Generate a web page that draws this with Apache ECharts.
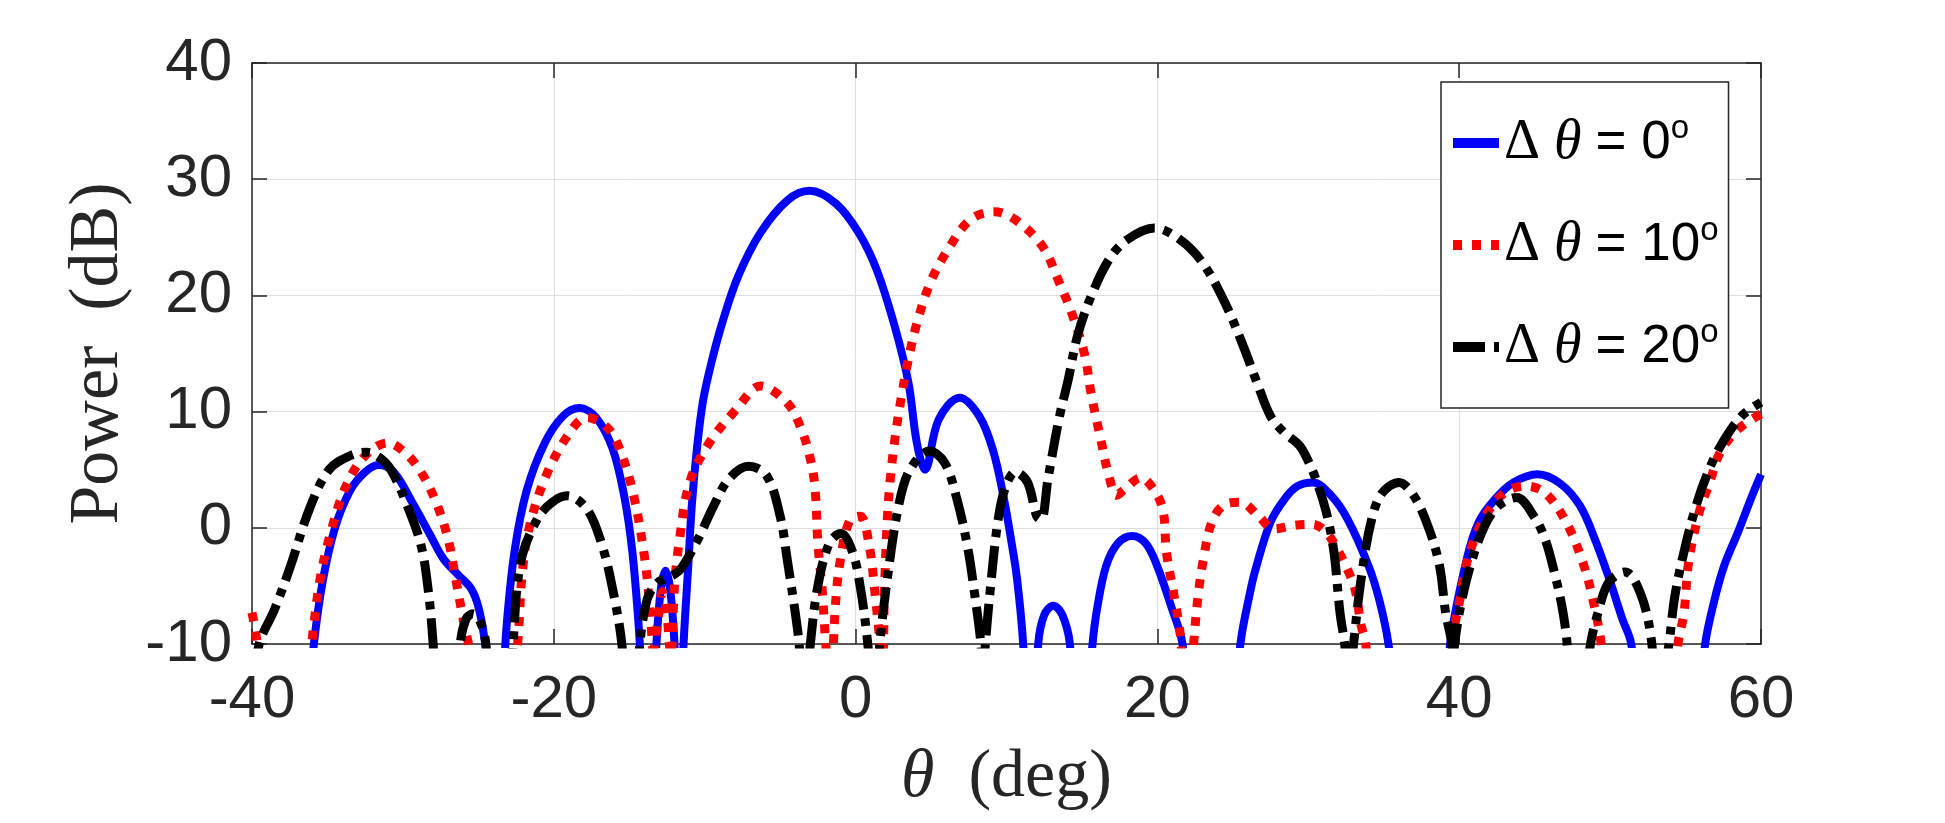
<!DOCTYPE html>
<html>
<head>
<meta charset="utf-8">
<title>Power vs theta</title>
<script src="https://cdn.jsdelivr.net/npm/echarts@6/dist/echarts.min.js"></script>
<style>
  html, body { margin: 0; padding: 0; background: #fff; }
  #chart { width: 1945px; height: 823px; }
</style>
</head>
<body>
<div id="chart"></div>
<script>
// axis ticks
const xTicks = [-40, -20, 0, 20, 40, 60]
const yTicks = [-10, 0, 10, 20, 30, 40]
const seriesNames = ['\u0394 \u03b8 = 0', '\u0394 \u03b8 = 10', '\u0394 \u03b8 = 20']

// Δθ = 0°
const thetaBlue = [-40, -36.3, -35.9, -35.3, -34.5, -33.5, -32.5, -31.6, -30.6, -29.3, -28.2, -27.3, -26.3, -25.5, -25.0, -24.6, -24.2, -23.8, -23.4, -23.1, -22.6, -21.8, -20.6, -19.4, -18.3, -17.2, -16.1, -15.3, -14.8, -14.4, -14.1, -13.6, -13.2, -12.9, -12.6, -12.3, -12.0, -11.7, -11.4, -11.1, -10.85, -10.5, -10.1, -9.5, -8.8, -7.8, -6.3, -4.5, -3.05, -1.3, 0.2, 1.4, 2.6, 3.5, 4.06, 4.6, 5.5, 6.9, 8.2, 9.1, 9.8, 10.3, 10.7, 11.1, 11.6, 12.1, 12.5, 13.1, 13.7, 14.2, 14.9, 15.7, 16.0, 16.6, 17.4, 18.35, 19.2, 19.9, 20.9, 21.65, 22.5, 24, 25.0, 25.5, 26.1, 26.5, 27.5, 28.5, 29.3, 30.3, 31.5, 32.6, 34.0, 34.7, 35.3, 36.5, 38, 39.0, 39.4, 40.5, 41.3, 42.4, 43.6, 45.2, 46.7, 48.0, 49.0, 50.0, 50.8, 51.4, 52.5, 54, 55.5, 56.3, 56.9, 57.55, 58.5, 59.3, 60]
const powerBlue = [-30, -16, -10, -4.5, 0, 3.2, 4.8, 5.4, 4.8, 2.0, -0.6, -2.7, -4.1, -5.2, -6.8, -9.5, -14, -20, -14, -8, -2, 3.2, 7.3, 9.6, 10.3, 9.5, 6.8, 2.5, -2, -8, -14, -20, -10, -5.2, -3.7, -5.2, -10, -20, -10, -3.5, 2, 7, 11, 14.5, 17.8, 21.6, 25.4, 28.2, 29.0, 27.9, 25.4, 22.2, 17.3, 12.5, 7.3, 5.0, 9.3, 11.2, 9.6, 6.7, 2.7, -1, -4.4, -9.9, -22, -10, -7.5, -6.7, -7.5, -10, -22, -10, -7, -3.3, -1.3, -0.7, -1.3, -3.0, -6.7, -9.9, -20, -30, -18, -10, -5.8, -3.6, 0.5, 2.6, 3.6, 3.9, 2.8, 0.75, -3.3, -6.2, -9.9, -22, -30, -18, -10, -2.7, 0.5, 2.5, 3.9, 4.6, 3.8, 1.9, -1.0, -4.6, -7.8, -10, -22, -30, -20, -10, -6.3, -3.3, -0.3, 2.4, 4.6]

// Δθ = 10°
const thetaRed = [-40, -39.7, -39.3, -38, -36.6, -36.05, -35.5, -34.8, -33.8, -32.5, -31.0, -29.8, -28.8, -27.8, -27.0, -26.5, -26.0, -25.6, -24.5, -23, -22.4, -22.1, -21.65, -20.6, -19.1, -17.8, -16.6, -15.8, -14.8, -14.0, -13.6, -13.4, -13.1, -12.8, -12.5, -12.25, -12.0, -11.7, -11.0, -9.7, -7.9, -6.3, -4.5, -3.6, -3.05, -2.7, -2.5, -2.2, -2.0, -1.7, -1.3, -1.0, -0.4, 0.3, 0.9, 1.3, 1.6, 1.8, 1.9, 2.1, 2.3, 2.6, 3.0, 3.5, 4.06, 4.95, 6.1, 7.6, 9.2, 10.6, 12.4, 13.5, 14.4, 15.2, 15.6, 16.2, 16.8, 17.3, 17.8, 18.9, 19.9, 20.4, 20.6, 21.1, 21.5, 21.9, 22.2, 22.4, 22.7, 23.05, 23.6, 24.45, 25.5, 26.7, 27.75, 29.0, 30.3, 31.2, 31.9, 32.6, 33.1, 33.5, 33.8, 34.5, 37, 39, 39.5, 40.1, 40.5, 41.5, 42.9, 44.4, 45.7, 47.1, 48.2, 48.9, 49.4, 50.5, 52.5, 54, 54.5, 54.9, 55.2, 55.9, 56.6, 57.3, 58.5, 60]
const powerRed = [-7.3, -9.5, -14, -22, -16, -10, -4.5, -0.5, 3.5, 6.2, 7.3, 6.4, 4.8, 2.2, -1.0, -4.4, -7.9, -10.5, -25, -16, -10, -4, -0.1, 4.2, 7.9, 9.5, 8.8, 7.3, 3.3, -2.4, -7.3, -10.5, -8, -5.5, -7.5, -11, -5, -1.3, 3.9, 7.3, 10.2, 12.2, 10.7, 8.5, 6.2, 3.6, -1.3, -5.6, -9.6, -14, -6, -2.7, 0.6, 1.0, -1.5, -5.8, -9.6, -12, -6, 0.75, 4.2, 7.6, 11, 14.5, 17.6, 21.1, 23.9, 26.5, 27.2, 26.5, 24.2, 21.1, 18.2, 14.8, 11.6, 7.9, 4.4, 2.8, 3.3, 4.3, 3.0, 1.3, -2.1, -5.8, -9.0, -14, -14, -10, -5.8, -2.7, 0.46, 2.0, 2.2, 1.0, -0.1, 0.2, 0.3, -0.4, -1.8, -3.6, -5.3, -8.4, -9.9, -20, -28, -18, -10, -5.8, -3.0, 0.46, 2.9, 3.6, 3.0, 0.46, -3.0, -6.4, -9.9, -22, -28, -18, -10, -7.3, -3.0, 1.3, 3.9, 6.5, 8.5, 9.8]

// Δθ = 20°
const thetaBlack = [-40, -39.5, -38.5, -37.45, -36.2, -34.9, -33.5, -32.4, -31.5, -30.8, -29.8, -28.8, -28.3, -28.0, -27.6, -26.6, -26.2, -25.8, -25.35, -24.9, -24.5, -24.1, -23.1, -22.7, -22.2, -21.1, -20.1, -19.1, -17.8, -16.8, -16.05, -15.5, -15, -14.6, -14.3, -13.8, -13.2, -12.7, -12.0, -11.5, -10.45, -9.4, -8.4, -7.1, -5.9, -5.0, -4.5, -4.0, -3.75, -3.4, -3.0, -2.5, -1.73, -0.97, -0.2, 0.3, 0.8, 1.2, 1.6, 2.1, 2.85, 3.6, 4.9, 5.9, 6.66, 7.4, 7.9, 8.3, 8.45, 8.6, 8.95, 9.45, 9.96, 10.6, 11.4, 12.0, 12.3, 12.75, 13.5, 14.1, 14.7, 15.6, 16.8, 18.0, 19.8, 21.5, 23.0, 24.5, 25.7, 26.6, 27.5, 28.4, 29.4, 29.9, 30.5, 31.2, 31.7, 32.1, 32.4, 32.7, 33.0, 33.5, 34.2, 34.9, 36.0, 37.0, 38.0, 38.7, 39.1, 39.5, 39.6, 39.7, 40.1, 40.8, 41.7, 42.6, 43.8, 44.95, 45.7, 46.3, 46.8, 47.1, 47.6, 48.3, 48.7, 49.2, 49.9, 51.0, 52.0, 52.7, 53.2, 53.9, 54.3, 55.0, 55.7, 56.4, 57.3, 58.7, 60]
const powerBlack = [-14, -9.9, -7.0, -3.3, 1.6, 5.0, 6.2, 6.5, 6.0, 5.0, 2.2, -1.5, -5.6, -9.9, -18, -18, -10, -7.8, -7.4, -8, -10, -18, -18, -10, -3.0, 0.75, 2.2, 2.75, 1.6, -1.5, -5.6, -9.9, -18, -16, -10, -6.1, -4.8, -4.4, -4.0, -3.4, -1.0, 1.9, 4.2, 5.3, 4.5, 1.0, -3.0, -7.3, -9.9, -16, -10, -5.0, -1.3, -0.5, -2.1, -5.0, -9.9, -16, -10, -4.4, 1.9, 5.0, 6.6, 5.6, 2.75, -1.5, -5.8, -9.9, -13, -10, -5.0, 0.75, 3.6, 4.8, 3.9, 1.0, 0.7, 4.2, 9.5, 12.8, 16.5, 19.9, 23.1, 24.8, 25.8, 24.8, 22.8, 19.3, 15.6, 12.5, 9.6, 8.2, 7.1, 6.0, 4.2, 1.3, -2.1, -7.3, -9.9, -14, -10, -4.4, 0.75, 3.0, 3.9, 2.75, -0.1, -3.3, -7.3, -9.9, -12, -10, -6.7, -3.0, 0.2, 1.9, 2.6, 1.0, -1.0, -3.8, -6.7, -9.3, -16, -14, -10, -7.3, -4.7, -3.8, -5.6, -9.3, -16, -10, -5.8, -1.5, 1.9, 4.5, 7.0, 9.6, 10.8]

function pairs(xs, ys) {
  return xs.map((x, i) => [x, ys[i]])
}

const chart = echarts.init(document.getElementById('chart'))
const txt = '#262626'
const labelFont = 'Liberation Sans'
const serif = 'Liberation Serif'

const legendRich = {
  d: { fontFamily: serif, fontSize: 56, color: '#000' },
  t: { fontFamily: serif, fontStyle: 'italic', fontSize: 56, color: '#000' },
  n: { fontFamily: labelFont, fontSize: 53, color: '#000' },
  s: { fontFamily: labelFont, fontSize: 33, color: '#000', verticalAlign: 'top', lineHeight: 30 }
}

function boxAxisLine() {
  return { show: true, onZero: false, lineStyle: { color: txt, width: 1.5 } }
}
function insideTicks() {
  return { show: true, inside: true, length: 15, lineStyle: { color: txt, width: 1.5 } }
}

chart.setOption({
  animation: false,
  backgroundColor: '#fff',
  grid: { left: 252, top: 63, width: 1509, height: 581, containLabel: false },
  legend: {
    orient: 'vertical',
    left: 1441,
    top: 82,
    padding: [30, 10, 30, 7],
    itemGap: 40,
    itemWidth: 46,
    itemHeight: 10,
    borderColor: '#262626',
    borderWidth: 1.5,
    backgroundColor: '#fff',
    data: seriesNames,
    itemStyle: { opacity: 0 },
    lineStyle: { width: 10 },
    formatter: function (name) {
      const deg = name.split('= ')[1]
      return '{d|\u0394 }{t|\u03b8 }{n|= ' + deg + '}{s|o}'
    },
    textStyle: { rich: legendRich, lineHeight: 62 }
  },
  xAxis: [{
    type: 'value',
    min: xTicks[0],
    max: xTicks[xTicks.length - 1],
    interval: 20,
    name: '{t|\u03b8}  (deg)',
    nameLocation: 'middle',
    nameGap: 100,
    nameTextStyle: {
      fontFamily: serif, fontSize: 68, color: txt,
      rich: { t: { fontFamily: serif, fontStyle: 'italic', fontSize: 68, color: txt } }
    },
    axisLine: boxAxisLine(),
    axisTick: insideTicks(),
    axisLabel: { fontFamily: labelFont, fontSize: 60, color: txt, margin: 26 },
    splitLine: { show: true, lineStyle: { color: '#dfdfdf', width: 1 } }
  }, {
    type: 'value',
    position: 'top',
    min: xTicks[0],
    max: xTicks[xTicks.length - 1],
    interval: 20,
    axisLine: boxAxisLine(),
    axisTick: insideTicks(),
    axisLabel: { show: false },
    splitLine: { show: false }
  }],
  yAxis: [{
    type: 'value',
    min: yTicks[0],
    max: yTicks[yTicks.length - 1],
    interval: 10,
    name: 'Power  (dB)',
    nameLocation: 'middle',
    nameGap: 118,
    nameTextStyle: { fontFamily: serif, fontSize: 70, color: txt },
    axisLine: boxAxisLine(),
    axisTick: insideTicks(),
    axisLabel: { fontFamily: labelFont, fontSize: 60, color: txt, margin: 20 },
    splitLine: { show: true, lineStyle: { color: '#dfdfdf', width: 1 } }
  }, {
    type: 'value',
    position: 'right',
    min: yTicks[0],
    max: yTicks[yTicks.length - 1],
    interval: 10,
    axisLine: boxAxisLine(),
    axisTick: insideTicks(),
    axisLabel: { show: false },
    splitLine: { show: false }
  }],
  series: [
    {
      name: seriesNames[0],
      type: 'line',
      data: pairs(thetaBlue, powerBlue),
      smooth: 0.35,
      symbol: 'none',
      clip: true,
      z: 3,
      itemStyle: { color: '#0000ff' },
      lineStyle: { color: '#0000ff', width: 8 }
    },
    {
      name: seriesNames[1],
      type: 'line',
      data: pairs(thetaRed, powerRed),
      smooth: 0.35,
      symbol: 'none',
      clip: true,
      z: 4,
      itemStyle: { color: '#ff0000' },
      lineStyle: { color: '#ff0000', width: 9, type: [9, 10], cap: 'butt' }
    },
    {
      name: seriesNames[2],
      type: 'line',
      data: pairs(thetaBlack, powerBlack),
      smooth: 0.35,
      symbol: 'none',
      clip: true,
      z: 5,
      itemStyle: { color: '#000000' },
      lineStyle: { color: '#000000', width: 9, type: [32, 9, 8, 9], cap: 'butt' }
    }
  ]
})
</script>
</body>
</html>
